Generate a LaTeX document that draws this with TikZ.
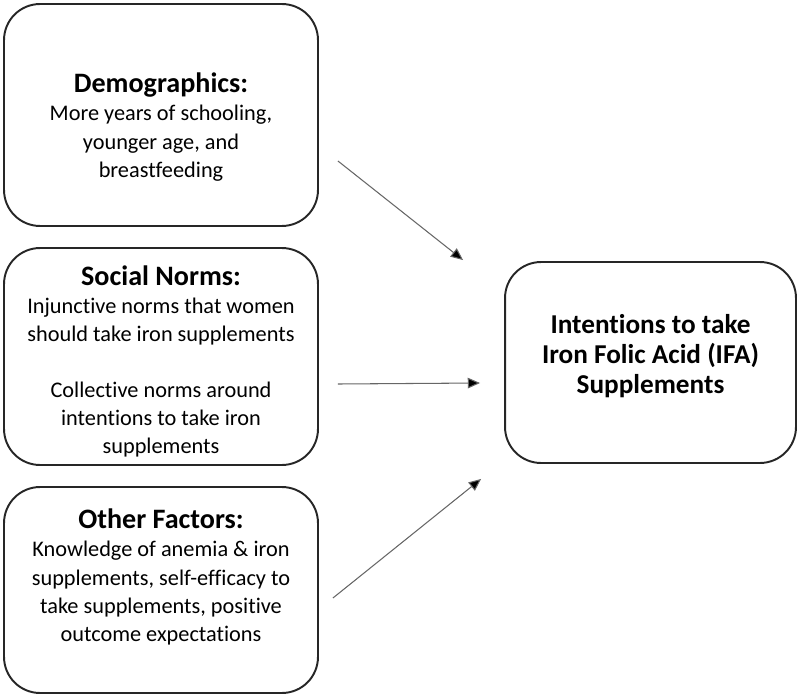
\documentclass[tikz,border=0pt]{standalone}
\usepackage{fontspec}
\setmainfont{Carlito}[Ligatures=NoCommon]
\usetikzlibrary{arrows.meta, calc}
\tikzset{
    factor/.style={draw=black!85, line width=1.1pt, rounded corners=0.72cm,
        minimum width=6.28cm, inner sep=0pt},
    factortext/.style={align=center, font=\fontsize{12.7}{16}\selectfont},
    flow/.style={draw=black!60, line width=0.6pt, -{Triangle[length=7pt,width=6pt,fill=black]}},
}
\newcommand{\heading}[1]{{\fontsize{16}{17}\selectfont\bfseries #1}}

\begin{document}
\begin{tikzpicture}[x=0.02cm, y=-0.02cm]
    % Fix the page
    \useasboundingbox (0,0) rectangle (800,699);

    % Draw the factor boxes
    \node[factor, minimum height=4.44cm] (demo) at (161,115) {};
    \node[factor, minimum height=4.34cm] (norms) at (161,356.5) {};
    \node[factor, minimum height=4.12cm] (other) at (161,590) {};
    \node[factor, minimum width=5.82cm, minimum height=4.02cm] (intent) at (650.5,362.5) {};

    % Add the box texts
    \node[factortext] (demoText) at (161,127) {\heading{Demographics:}\\
        More years of schooling,\\ younger age, and\\ breastfeeding};
    \node[factortext] (normsText) at (161,361.5) {\heading{Social Norms:}\\
        Injunctive norms that women\\ should take iron supplements\\[16pt]
        Collective norms around\\ intentions to take iron\\ supplements};
    \node[factortext] (otherText) at (161,577) {\heading{Other Factors:}\\
        Knowledge of anemia \& iron\\ supplements, self-efficacy to\\
        take supplements, positive\\ outcome expectations};
    \node[align=center, font=\fontsize{15.5}{17}\selectfont\bfseries] (intentText) at (650.5,356)
        {Intentions to take\\ Iron Folic Acid (IFA)\\ Supplements};

    % Draw the arrows
    \draw[flow] ($(demo.east)+(19,46)$) -- ($(intent.north west)+(-41,-1)$);
    \draw[flow] ($(norms.east)+(19,27.5)$) -- ($(intent.west)+(-24,20.5)$);
    \draw[flow] ($(other.east)+(14,8)$) -- ($(intent.south west)+(-23,15)$);
\end{tikzpicture}
\end{document}
